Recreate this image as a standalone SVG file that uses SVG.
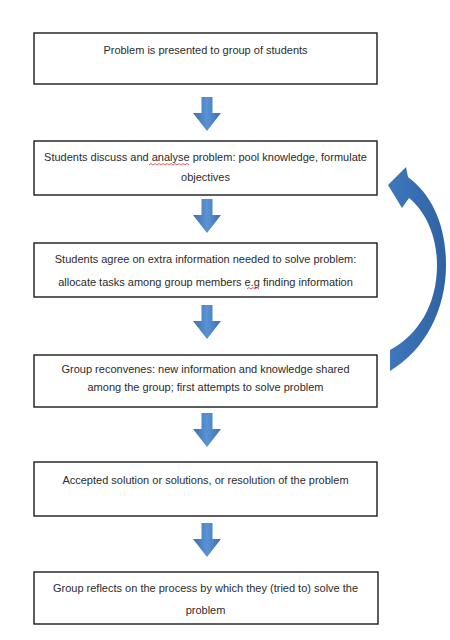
<svg xmlns="http://www.w3.org/2000/svg" width="450" height="640" viewBox="0 0 450 640">
<defs>
<style>
.box{fill:#ffffff;stroke:#1a1a1a;stroke-width:1.4}
.t{font-family:"Liberation Sans",Arial,sans-serif;font-size:11px;fill:#2b2b2b;text-anchor:middle}
.arr{fill:url(#ag)}
.sq{fill:none;stroke:#d9304a;stroke-width:0.8}
</style>
<linearGradient id="ag" x1="0" y1="0" x2="1" y2="0">
<stop offset="0" stop-color="#3d6fae"/>
<stop offset="0.5" stop-color="#5a93d4"/>
<stop offset="1" stop-color="#3d6fae"/>
</linearGradient>
<linearGradient id="cg" x1="0" y1="0" x2="1" y2="0">
<stop offset="0" stop-color="#3f78bd"/>
<stop offset="1" stop-color="#2f62a3"/>
</linearGradient>
<path id="down" d="M-5.5,0 H5.5 V16 H14 L0,34 L-14,16 H-5.5 Z"/>
</defs>
<rect width="450" height="640" fill="#ffffff"/>

<g id="connectors">
<use href="#down" class="arr" x="207" y="97"/>
<use href="#down" class="arr" x="207" y="199"/>
<use href="#down" class="arr" x="207" y="305"/>
<use href="#down" class="arr" x="207" y="413"/>
<use href="#down" class="arr" x="207" y="523"/>
<path id="loop" fill="url(#cg)" d="M388,185 L406,167 L408,177 C432,195 446,225 446,265 C446,310 425,350 390,371 L390,350 C418,335 437,305 437,265 C437,235 425,211 409,198 L402,208 Z"/>
</g>

<g id="n1">
<rect class="box" x="34" y="33" width="343" height="51"/>
<text class="t" x="205.5" y="54">Problem is presented to group of students</text>
</g>

<g id="n2">
<rect class="box" x="34" y="141" width="343" height="54"/>
<text class="t" x="205.5" y="161">Students discuss and analyse problem: pool knowledge, formulate</text>
<text class="t" x="205.5" y="181">objectives</text>
<path class="sq" d="M149,165 l2,-1.5 l2,1.5 l2,-1.5 l2,1.5 l2,-1.5 l2,1.5 l2,-1.5 l2,1.5 l2,-1.5 l2,1.5 l2,-1.5 l2,1.5 l2,-1.5 l2,1.5 l2,-1.5 l2,1.5 l2,-1.5 l2,1.5 l2,-1.5 l2,1.5"/>
</g>

<g id="n3">
<rect class="box" x="34" y="243" width="343" height="54"/>
<text class="t" x="205.5" y="263">Students agree on extra information needed to solve problem:</text>
<text class="t" x="205.5" y="286">allocate tasks among group members e.g finding information</text>
<path class="sq" d="M247,289 l2,-1.5 l2,1.5 l2,-1.5 l2,1.5 l2,-1.5 l2,1.5"/>
</g>

<g id="n4">
<rect class="box" x="34" y="355" width="343" height="52"/>
<text class="t" x="205.5" y="373">Group reconvenes: new information and knowledge shared</text>
<text class="t" x="205.5" y="391">among the group; first attempts to solve problem</text>
</g>

<g id="n5">
<rect class="box" x="34" y="462" width="343" height="54"/>
<text class="t" x="205.5" y="484">Accepted solution or solutions, or resolution of the problem</text>
</g>

<g id="n6">
<rect class="box" x="34" y="572" width="344" height="52"/>
<text class="t" x="205.5" y="592">Group reflects on the process by which they (tried to) solve the</text>
<text class="t" x="205.5" y="614">problem</text>
</g>
</svg>
